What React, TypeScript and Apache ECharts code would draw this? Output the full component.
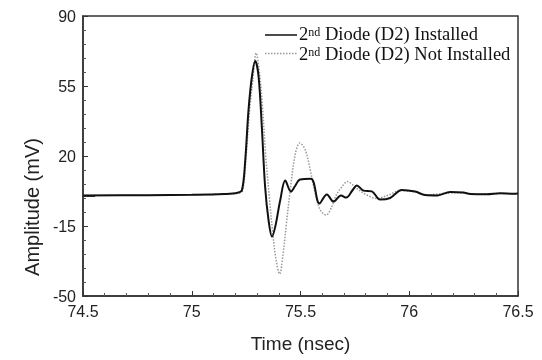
import React, { useEffect, useRef } from "react";
import * as echarts from "echarts";

const timeInstalled = [
  74.5, 74.8, 75.0, 75.15, 75.21, 75.231, 75.246, 75.261, 75.277, 75.292,
  75.307, 75.322, 75.337, 75.353, 75.369, 75.384, 75.407, 75.43, 75.456, 75.475,
  75.498, 75.548, 75.587, 75.621, 75.652, 75.686, 75.71, 75.74, 75.759, 75.79,
  75.828, 75.866, 75.912, 75.966, 76.027, 76.073, 76.13, 76.188, 76.249, 76.28,
  76.357, 76.418, 76.479, 76.5,
];
const ampInstalled = [
  0.3, 0.4, 0.6, 1.0, 1.6, 3, 18, 43, 60, 67.5,
  60, 35, 5, -12, -20.3, -15.3, -2, 7.7, 2.2, 5,
  8.3, 8.6, -3.7, 0.8, -2.8, 0.3, -0.8, 3, 5.3, 2.7,
  2.3, -1.8, -1.0, 3, 2.2, 0.5, 0.3, 2.0, 1.7, 1.0,
  0.9, 1.4, 1.1, 1.2,
];

const timeNotInstalled = [
  74.5, 74.8, 75.0, 75.15, 75.22, 75.235, 75.251, 75.266, 75.281, 75.296,
  75.31, 75.325, 75.34, 75.357, 75.372, 75.385, 75.404, 75.42, 75.435, 75.453,
  75.476, 75.497, 75.522, 75.545, 75.568, 75.591, 75.618, 75.644, 75.662, 75.69,
  75.715, 75.73, 75.759, 75.805, 75.851, 75.905, 75.959, 76.02, 76.081, 76.13,
  76.19, 76.25, 76.3, 76.36, 76.42, 76.48, 76.5,
];
const ampNotInstalled = [
  0.3, 0.4, 0.6, 1.0, 1.6, 3, 21, 43, 58, 71.5,
  63, 45, 20, -1, -18, -30, -39, -29, -14, 3,
  21, 26.5, 23, 13, 1.3, -7, -9.5, -5.3, 0, 4.5,
  7.2, 6.5, 3.8, 0.5, -1.2, 0.5, 2.7, 2.2, 0.5, 1.0,
  1.6, 1.5, 1.0, 1.0, 1.3, 1.1, 1.1,
];

const xTicks = [74.5, 75, 75.5, 76, 76.5];
const yTicks = [-50, -15, 20, 55, 90];
const seriesNames = ["2nd Diode (D2) Installed", "2nd Diode (D2) Not Installed"];

const SANS = "Liberation Sans, Arial, Helvetica, sans-serif";
const SERIF = "Liberation Serif, Times New Roman, serif";

export default function App() {
  const ref = useRef<HTMLDivElement>(null);
  useEffect(() => {
    if (!ref.current) return;
    const chart = echarts.init(ref.current, null, { renderer: "svg" });
    const axisColor = "#333";
    const legendText = (name: string, y: number) => ({
      type: "text",
      x: 299,
      y,
      style: {
        text: `{n|2}{sup|nd}{n|${name.slice(3)}}`,
        fill: "#111",
        fontFamily: SERIF,
        fontSize: 18.5,
        verticalAlign: "middle",
        rich: {
          n: { fontFamily: SERIF, fontSize: 18.5, fill: "#111", lineHeight: 17 },
          sup: {
            fontFamily: SERIF,
            fontSize: 12,
            fill: "#111",
            lineHeight: 17,
            verticalAlign: "top",
            padding: [0, 0, 6, 0],
          },
        },
      },
    });
    chart.setOption({
      animation: false,
      grid: {
        left: 83,
        top: 16,
        width: 435,
        height: 280,
        show: true,
        borderColor: axisColor,
        borderWidth: 1.5,
      },
      xAxis: {
        type: "value",
        min: xTicks[0],
        max: xTicks[xTicks.length - 1],
        interval: 0.5,
        axisLine: { show: true, onZero: false, lineStyle: { color: axisColor, width: 1.5 } },
        axisTick: { show: true, inside: true, length: 5, lineStyle: { color: axisColor } },
        minorTick: { show: true, splitNumber: 5, length: 3, lineStyle: { color: "#555" } },
        splitLine: { show: false },
        axisLabel: {
          color: "#222",
          fontSize: 16,
          fontFamily: SANS,
          margin: 7,
          formatter: (v: number) => String(v),
        },
        name: "Time (nsec)",
        nameLocation: "middle",
        nameGap: 38,
        nameTextStyle: { fontSize: 19, fontFamily: SANS, color: "#222" },
      },
      yAxis: [
        {
          type: "value",
          min: yTicks[0],
          max: yTicks[yTicks.length - 1],
          interval: 35,
          axisLine: { show: true, onZero: false, lineStyle: { color: axisColor, width: 1.5 } },
          axisTick: { show: true, inside: true, length: 5, lineStyle: { color: axisColor } },
          minorTick: { show: true, splitNumber: 5, length: 3, lineStyle: { color: "#555" } },
          splitLine: { show: false },
          axisLabel: { color: "#222", fontSize: 16, fontFamily: SANS, margin: 7 },
        },
        {
          type: "value",
          position: "left",
          min: yTicks[0],
          max: yTicks[yTicks.length - 1],
          axisLine: { show: false, onZero: false },
          axisLabel: { show: false },
          splitLine: { show: false },
          axisTick: {
            show: true,
            inside: true,
            length: 12,
            customValues: [0],
            lineStyle: { color: axisColor },
          },
        },
      ],
      graphic: [
        {
          type: "text",
          x: 32,
          y: 207,
          rotation: Math.PI / 2,
          style: {
            text: "Amplitude (mV)",
            fontSize: 20,
            fontFamily: SANS,
            fill: "#222",
            align: "center",
            verticalAlign: "middle",
          },
        },
        {
          type: "line",
          shape: { x1: 265, y1: 35, x2: 297, y2: 35 },
          style: { stroke: "#111", lineWidth: 1.5 },
        },
        {
          type: "line",
          shape: { x1: 265, y1: 53.5, x2: 297, y2: 53.5 },
          style: { stroke: "#999", lineWidth: 1.5, lineDash: [1.5, 1.5] },
        },
        legendText(seriesNames[0], 34),
        legendText(seriesNames[1], 54),
      ],
      series: [
        {
          name: seriesNames[0],
          type: "line",
          smooth: 0.35,
          symbol: "none",
          z: 3,
          lineStyle: { color: "#111", width: 2 },
          itemStyle: { color: "#111" },
          data: timeInstalled.map((t, i) => [t, ampInstalled[i]]),
        },
        {
          name: seriesNames[1],
          type: "line",
          smooth: 0.35,
          symbol: "none",
          z: 2,
          lineStyle: { color: "#999", width: 1.5, type: "dotted" },
          itemStyle: { color: "#999" },
          data: timeNotInstalled.map((t, i) => [t, ampNotInstalled[i]]),
        },
      ],
    });
    return () => chart.dispose();
  }, []);
  return (
    <div
      ref={ref}
      style={{ position: "fixed", left: 0, top: 0, width: 542, height: 360 }}
    />
  );
}
